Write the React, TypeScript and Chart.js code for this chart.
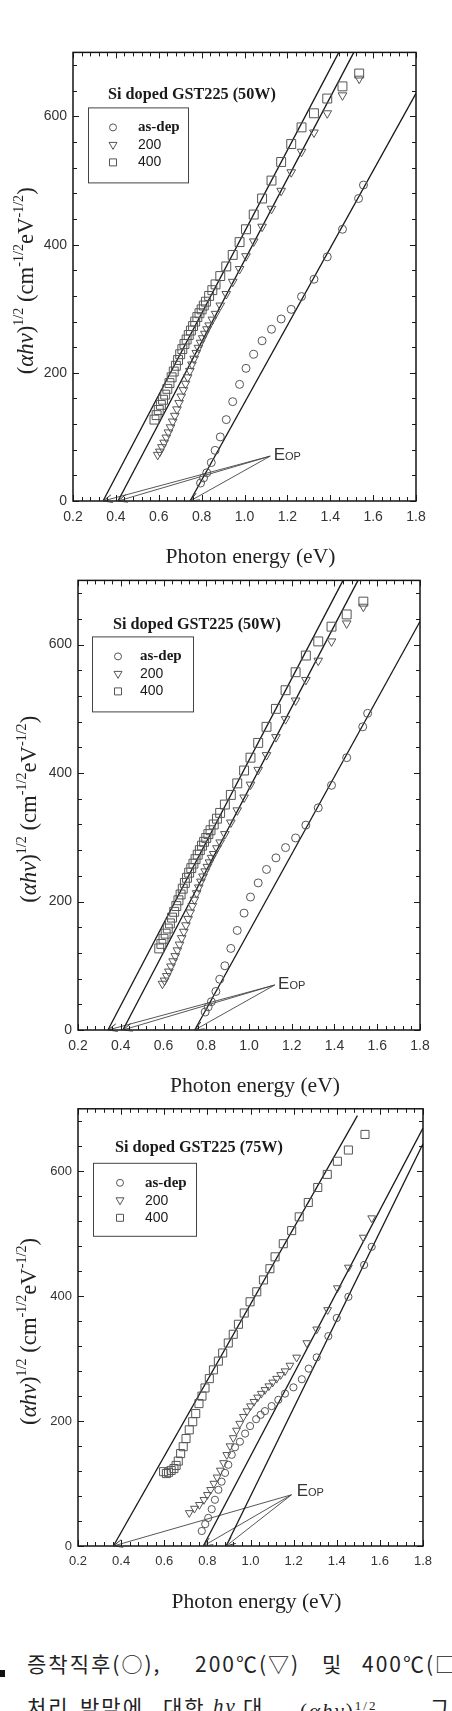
import React, { useEffect, useRef } from 'react';
import { Chart, registerables } from 'chart.js';

Chart.register(...registerables);
Chart.defaults.font.family = '"Liberation Sans", Arial, sans-serif';

// ---------------- data: 50 W film (shown in panels 1 and 2) ----------------
const e50AsDep = [0.795, 0.809, 0.824, 0.845, 0.863, 0.887, 0.915, 0.945, 0.977, 1.007, 1.043, 1.082, 1.126, 1.171, 1.218, 1.266, 1.324, 1.386, 1.457, 1.532, 1.555];
const v50AsDep = [28, 36, 44, 60, 79, 100, 127, 155, 182, 207, 229, 250, 268, 284, 299, 319, 346, 381, 424, 472, 493];

const e50Ann200 = [0.595, 0.605, 0.615, 0.625, 0.635, 0.645, 0.655, 0.665, 0.675, 0.685, 0.695, 0.705, 0.715, 0.725, 0.735, 0.745, 0.755, 0.765, 0.775, 0.785, 0.795, 0.805, 0.815, 0.825, 0.835, 0.85, 0.865, 0.887, 0.915, 0.945, 0.977, 1.007, 1.043, 1.082, 1.126, 1.171, 1.218, 1.266, 1.324, 1.386, 1.457, 1.535];
const v50Ann200 = [72, 77, 84, 91, 99, 107, 115, 124, 133, 143, 153, 163, 173, 183, 193, 203, 213, 222, 231, 239, 247, 254, 261, 268, 274, 283, 292, 305, 323, 342, 362, 382, 405, 428, 456, 484, 513, 545, 575, 605, 633, 659];

const e50Ann400 = [0.58, 0.59, 0.6, 0.61, 0.62, 0.63, 0.64, 0.65, 0.66, 0.67, 0.68, 0.69, 0.7, 0.71, 0.72, 0.73, 0.74, 0.75, 0.76, 0.77, 0.78, 0.79, 0.8, 0.81, 0.82, 0.835, 0.85, 0.865, 0.887, 0.915, 0.945, 0.977, 1.007, 1.043, 1.082, 1.126, 1.171, 1.218, 1.266, 1.324, 1.386, 1.457, 1.535];
const v50Ann400 = [127, 134, 142, 150, 158, 166, 175, 184, 193, 202, 211, 220, 229, 237, 245, 252, 259, 266, 273, 280, 287, 293, 299, 305, 311, 320, 329, 338, 351, 366, 384, 404, 424, 447, 472, 500, 529, 557, 583, 605, 628, 647, 667];

// fitted straight lines (start / end energy and value), order: 400, 200, as-dep
const fit50E = [[0.34, 1.44], [0.41, 1.51], [0.746, 1.8]];
const fit50V = [[0, 700], [0, 700], [0, 636]];
// EOP annotation: arrow source, label anchor, arrow targets (intercepts on the x axis)
const eop50Source = [1.12, 70];
const eop50Label = [1.136, 73];
const eop50Targets = [0.34, 0.41, 0.746];

// ---------------- data: 75 W film (panel 3) ----------------
const e75AsDep = [0.774, 0.79, 0.804, 0.82, 0.835, 0.851, 0.866, 0.882, 0.897, 0.913, 0.928, 0.951, 0.975, 0.998, 1.026, 1.047, 1.067, 1.098, 1.129, 1.16, 1.199, 1.238, 1.27, 1.307, 1.361, 1.4, 1.454, 1.527, 1.562];
const v75AsDep = [24, 35, 45, 59, 74, 90, 103, 117, 130, 146, 158, 167, 180, 192, 203, 210, 216, 224, 234, 244, 254, 267, 284, 302, 336, 365, 399, 450, 479];

const e75Ann200 = [0.716, 0.74, 0.763, 0.784, 0.8, 0.815, 0.83, 0.845, 0.86, 0.875, 0.89, 0.905, 0.92, 0.935, 0.95, 0.967, 0.984, 1.0, 1.016, 1.033, 1.05, 1.067, 1.085, 1.103, 1.121, 1.14, 1.16, 1.183, 1.214, 1.261, 1.307, 1.358, 1.403, 1.454, 1.523, 1.562];
const v75Ann200 = [53, 60, 66, 74, 82, 90, 100, 110, 121, 133, 146, 160, 173, 185, 196, 207, 216, 224, 231, 238, 244, 250, 256, 262, 268, 274, 280, 289, 302, 325, 347, 378, 413, 446, 494, 525];

const e75Ann400 = [0.597, 0.61, 0.62, 0.632, 0.645, 0.655, 0.665, 0.676, 0.688, 0.701, 0.716, 0.732, 0.746, 0.761, 0.775, 0.789, 0.809, 0.828, 0.851, 0.871, 0.897, 0.92, 0.944, 0.971, 0.998, 1.029, 1.06, 1.09, 1.114, 1.152, 1.191, 1.226, 1.268, 1.312, 1.356, 1.403, 1.454, 1.531];
const v75Ann400 = [119, 116, 118, 121, 124, 129, 136, 148, 159, 172, 186, 199, 212, 228, 240, 253, 268, 282, 296, 309, 325, 339, 355, 373, 391, 407, 426, 444, 463, 484, 505, 527, 550, 574, 595, 616, 634, 659];

const fit75E = [[0.364, 1.496], [0.781, 1.8], [0.887, 1.8]];
const fit75V = [[0, 689], [0, 669], [0, 644]];
const eop75Source = [1.19, 82];
const eop75Label = [1.214, 89];
const eop75Targets = [0.364, 0.781, 0.887];

// ---------------- axes / labels ----------------
const xTickLabels = ['0.2', '0.4', '0.6', '0.8', '1.0', '1.2', '1.4', '1.6', '1.8'];
const yTickLabels = ['0', '200', '400', '600'];
const legendLabels = ['as-dep', '200', '400'];
const xMinorStep = 0.04;
const yMinorStep = 40;
const titles = ['Si doped GST225 (50W)', 'Si doped GST225 (50W)', 'Si doped GST225 (75W)'];

const SERIF = '"Liberation Serif", "Times New Roman", serif';
const SANS = '"Liberation Sans", Arial, sans-serif';

type Legend = { tx: number; ty: number; bx: number; by: number; bw: number; bh: number; rows: number[]; sx: number; lx: number };
type Cfg = {
  canvasTop: number;
  canvasHeight: number;
  area: { left: number; right: number; top: number; bottom: number };
  title: string;
  series: { e: number[]; v: number[] }[];
  fitE: number[][];
  fitV: number[][];
  eopSrc: number[];
  eopLabel: number[];
  eopTargets: number[];
  tickFont: number;
  radii: number[];
  legend: Legend;
  yTitleX: number;
};

const panels: Cfg[] = [
  {
    canvasTop: 38, canvasHeight: 540,
    area: { left: 73, right: 416, top: 48, bottom: 501 },
    title: titles[0],
    series: [{ e: e50AsDep, v: v50AsDep }, { e: e50Ann200, v: v50Ann200 }, { e: e50Ann400, v: v50Ann400 }],
    fitE: fit50E, fitV: fit50V,
    eopSrc: eop50Source, eopLabel: eop50Label, eopTargets: eop50Targets,
    tickFont: 14, radii: [4, 5, 6.3],
    legend: { tx: 35, ty: 42, bx: 15, by: 55, bw: 100, bh: 75, rows: [75, 93, 110], sx: 40, lx: 65 },
    yTitleX: 25,
  },
  {
    canvasTop: 566, canvasHeight: 534,
    area: { left: 78, right: 420, top: 576, bottom: 1030 },
    title: titles[1],
    series: [{ e: e50AsDep, v: v50AsDep }, { e: e50Ann200, v: v50Ann200 }, { e: e50Ann400, v: v50Ann400 }],
    fitE: fit50E, fitV: fit50V,
    eopSrc: eop50Source, eopLabel: eop50Label, eopTargets: eop50Targets,
    tickFont: 14, radii: [4, 5, 6.3],
    legend: { tx: 35, ty: 44, bx: 14, by: 56, bw: 101, bh: 75, rows: [76, 94, 111], sx: 40, lx: 62 },
    yTitleX: 28,
  },
  {
    canvasTop: 1095, canvasHeight: 525,
    area: { left: 78, right: 423, top: 1105, bottom: 1546 },
    title: titles[2],
    series: [{ e: e75AsDep, v: v75AsDep }, { e: e75Ann200, v: v75Ann200 }, { e: e75Ann400, v: v75Ann400 }],
    fitE: fit75E, fitV: fit75V,
    eopSrc: eop75Source, eopLabel: eop75Label, eopTargets: eop75Targets,
    tickFont: 13, radii: [3.6, 4.5, 5.7],
    legend: { tx: 37, ty: 39, bx: 15, by: 54, bw: 103, bh: 73, rows: [74, 92, 109], sx: 42, lx: 67 },
    yTitleX: 28,
  },
];

const markerStyles = [
  { pointStyle: 'circle', rotation: 0 },
  { pointStyle: 'triangle', rotation: 180 },
  { pointStyle: 'rect', rotation: 0 },
];

function drawSymbol(ctx: CanvasRenderingContext2D, kind: number, x: number, y: number) {
  ctx.beginPath();
  if (kind === 0) {
    ctx.arc(x, y, 3.5, 0, Math.PI * 2);
  } else if (kind === 1) {
    ctx.moveTo(x - 4, y - 3);
    ctx.lineTo(x + 4, y - 3);
    ctx.lineTo(x, y + 4);
    ctx.closePath();
  } else {
    ctx.rect(x - 3.5, y - 3.5, 7, 7);
  }
  ctx.stroke();
}

function drawYTitle(ctx: CanvasRenderingContext2D, cx: number, cy: number, targetLen: number) {
  const parts: [string, string, boolean][] = [
    ['(', '', false], ['αhν', 'italic ', false], [')', '', false], ['1/2', '', true],
    [' (cm', '', false], ['-1/2', '', true], ['eV', '', false], ['-1/2', '', true], [')', '', false],
  ];
  const font = (st: string, sup: boolean, size: number) => `${st}${sup ? size * 0.62 : size}px ${SERIF}`;
  const measure = (size: number) =>
    parts.reduce((s, [t, st, sup]) => {
      ctx.font = font(st, sup, size);
      return s + ctx.measureText(t).width;
    }, 0);
  const base = 20;
  const size = (base * targetLen) / measure(base);
  ctx.save();
  ctx.translate(cx, cy);
  ctx.rotate(-Math.PI / 2);
  ctx.textAlign = 'left';
  ctx.textBaseline = 'alphabetic';
  ctx.fillStyle = '#222';
  let x = -targetLen / 2;
  const baseY = size * 0.34;
  for (const [t, st, sup] of parts) {
    ctx.font = font(st, sup, size);
    ctx.fillText(t, x, sup ? baseY - size * 0.42 : baseY);
    x += ctx.measureText(t).width;
  }
  ctx.restore();
}

function fitSize(ctx: CanvasRenderingContext2D, text: string, style: string, family: string, width: number) {
  ctx.font = `${style} 20px ${family}`;
  return (20 * width) / ctx.measureText(text).width;
}

function makeDecor(cfg: Cfg) {
  return {
    id: 'decor',
    afterDraw(chart: any) {
      const ctx: CanvasRenderingContext2D = chart.ctx;
      const a = chart.chartArea;
      const xs = chart.scales.x;
      const ys = chart.scales.y;
      ctx.save();

      // inward ticks on all four sides
      ctx.strokeStyle = '#1a1a1a';
      ctx.lineWidth = 1;
      ctx.beginPath();
      const nx = Math.round((xs.max - xs.min) / xMinorStep);
      for (let i = 0; i <= nx; i++) {
        const px = Math.round(xs.getPixelForValue(xs.min + i * xMinorStep)) + 0.5;
        const len = i % 5 === 0 ? 6 : 4;
        ctx.moveTo(px, a.bottom);
        ctx.lineTo(px, a.bottom - len);
        ctx.moveTo(px, a.top);
        ctx.lineTo(px, a.top + len);
      }
      const ny = Math.floor((ys.max - ys.min) / yMinorStep);
      for (let j = 0; j <= ny; j++) {
        const py = Math.round(ys.getPixelForValue(j * yMinorStep)) + 0.5;
        const len = j % 5 === 0 ? 6 : 4;
        ctx.moveTo(a.left, py);
        ctx.lineTo(a.left + len, py);
        ctx.moveTo(a.right, py);
        ctx.lineTo(a.right - len, py);
      }
      ctx.stroke();

      // frame
      ctx.strokeStyle = '#151515';
      ctx.lineWidth = 1.5;
      ctx.strokeRect(a.left, a.top, a.right - a.left, a.bottom - a.top);

      // EOP arrowheads
      const sx = xs.getPixelForValue(cfg.eopSrc[0]);
      const sy = ys.getPixelForValue(cfg.eopSrc[1]);
      ctx.strokeStyle = '#333';
      ctx.lineWidth = 1;
      ctx.beginPath();
      for (const t of cfg.eopTargets) {
        const tx = xs.getPixelForValue(t);
        const ty = ys.getPixelForValue(0);
        const ang = Math.atan2(ty - sy, tx - sx);
        const L = 10;
        ctx.moveTo(tx - L * Math.cos(ang - 0.4), ty - L * Math.sin(ang - 0.4));
        ctx.lineTo(tx, ty);
        ctx.lineTo(tx - L * Math.cos(ang + 0.4), ty - L * Math.sin(ang + 0.4));
      }
      ctx.stroke();

      // EOP label
      const lx = xs.getPixelForValue(cfg.eopLabel[0]);
      const ly = ys.getPixelForValue(cfg.eopLabel[1]);
      ctx.fillStyle = '#333';
      ctx.textBaseline = 'alphabetic';
      ctx.textAlign = 'left';
      ctx.font = `17px ${SANS}`;
      ctx.fillText('E', lx, ly + 6);
      const we = ctx.measureText('E').width;
      ctx.font = `11px ${SANS}`;
      ctx.fillText('OP', lx + we, ly + 6);

      // in-plot title
      const lg = cfg.legend;
      ctx.fillStyle = '#1a1a1a';
      ctx.textBaseline = 'middle';
      const ts = fitSize(ctx, cfg.title, 'bold', SERIF, 168);
      ctx.font = `bold ${ts}px ${SERIF}`;
      ctx.fillText(cfg.title, a.left + lg.tx, a.top + lg.ty);

      // legend box
      ctx.strokeStyle = '#444';
      ctx.lineWidth = 1;
      ctx.strokeRect(a.left + lg.bx + 0.5, a.top + lg.by + 0.5, lg.bw, lg.bh);
      ctx.strokeStyle = '#555';
      for (let k = 0; k < 3; k++) {
        const ry = a.top + lg.rows[k];
        drawSymbol(ctx, k, a.left + lg.sx, ry);
        ctx.fillStyle = '#1a1a1a';
        ctx.font = k === 0 ? `bold 15px ${SERIF}` : `14px ${SANS}`;
        ctx.fillText(legendLabels[k], a.left + lg.lx, ry);
      }

      // axis titles
      ctx.textAlign = 'center';
      const xt = 'Photon energy (eV)';
      const xsz = fitSize(ctx, xt, '', SERIF, 170);
      ctx.font = `${xsz}px ${SERIF}`;
      ctx.fillStyle = '#222';
      ctx.fillText(xt, (a.left + a.right) / 2 + 6, a.bottom + 56);
      drawYTitle(ctx, cfg.yTitleX, (a.top + a.bottom) / 2 + 4, 187);

      ctx.restore();
    },
  };
}

function Panel({ cfg }: { cfg: Cfg }) {
  const ref = useRef<HTMLCanvasElement>(null);
  useEffect(() => {
    const canvas = ref.current;
    if (!canvas) return;
    const a = cfg.area;
    const xAxisH = cfg.canvasTop + cfg.canvasHeight - a.bottom;
    const datasets: any[] = [];
    cfg.series.forEach((s, k) => {
      datasets.push({
        label: legendLabels[k],
        data: s.e.map((e, i) => ({ x: e, y: s.v[i] })),
        pointStyle: markerStyles[k].pointStyle,
        rotation: markerStyles[k].rotation,
        pointRadius: cfg.radii[k],
        pointBorderWidth: 1,
        borderColor: '#555',
        backgroundColor: 'rgba(0,0,0,0)',
        showLine: false,
      });
    });
    cfg.fitE.forEach((es, k) => {
      datasets.push({
        label: 'fit ' + k,
        data: [{ x: es[0], y: cfg.fitV[k][0] }, { x: es[1], y: cfg.fitV[k][1] }],
        showLine: true,
        pointRadius: 0,
        borderColor: '#1a1a1a',
        borderWidth: 1.3,
      });
    });
    cfg.eopTargets.forEach((t, k) => {
      datasets.push({
        label: 'eop ' + k,
        data: [{ x: cfg.eopSrc[0], y: cfg.eopSrc[1] }, { x: t, y: 0 }],
        showLine: true,
        pointRadius: 0,
        borderColor: '#444',
        borderWidth: 0.9,
      });
    });
    const tickFont = { size: cfg.tickFont, family: SANS };
    const chart = new Chart(canvas, {
      type: 'scatter',
      data: { datasets },
      options: {
        responsive: false,
        animation: false,
        events: [],
        layout: { padding: { top: a.top - cfg.canvasTop, left: 0, right: 452 - a.right, bottom: 0 } },
        plugins: { legend: { display: false }, tooltip: { enabled: false } },
        scales: {
          x: {
            type: 'linear',
            min: 0.2,
            max: 1.8,
            grid: { display: false, drawTicks: false },
            border: { display: false },
            ticks: {
              stepSize: 0.2,
              autoSkip: false,
              maxRotation: 0,
              padding: 8,
              color: '#333',
              font: tickFont,
              callback: (v: any) => {
                const s = Number(v).toFixed(1);
                return xTickLabels.includes(s) ? s : '';
              },
            },
            afterFit: (s: any) => {
              s.height = xAxisH;
            },
          },
          y: {
            type: 'linear',
            min: 0,
            max: 700,
            grid: { display: false, drawTicks: false },
            border: { display: false },
            ticks: {
              stepSize: 200,
              includeBounds: false,
              padding: 6,
              color: '#333',
              font: tickFont,
              callback: (v: any) => {
                const s = String(Math.round(Number(v)));
                return yTickLabels.includes(s) ? s : '';
              },
            },
            afterFit: (s: any) => {
              s.width = a.left;
            },
          },
        },
      } as any,
      plugins: [makeDecor(cfg) as any],
    });
    return () => chart.destroy();
  }, [cfg]);
  return (
    <canvas
      ref={ref}
      width={452}
      height={cfg.canvasHeight}
      style={{ position: 'absolute', left: 0, top: cfg.canvasTop, width: 452, height: cfg.canvasHeight }}
    />
  );
}

const KFONT = '"Noto Sans CJK KR", "Noto Sans", sans-serif';

function Seg({ x, y, children, style }: { x: number; y: number; children: React.ReactNode; style?: React.CSSProperties }) {
  return (
    <span
      style={{
        position: 'absolute',
        left: x,
        top: y,
        whiteSpace: 'pre',
        fontFamily: KFONT,
        fontSize: 21,
        lineHeight: '24px',
        color: '#222',
        letterSpacing: 2,
        ...style,
      }}
    >
      {children}
    </span>
  );
}

export default function App() {
  const y1 = 1651;
  const y2 = 1694;
  return (
    <div
      style={{
        position: 'absolute',
        left: 0,
        top: 0,
        width: 452,
        height: 1711,
        overflow: 'hidden',
        background: '#fff',
      }}
    >
      {panels.map((p, i) => (
        <Panel key={i} cfg={p} />
      ))}
      <div style={{ position: 'absolute', left: -2, top: 1670, width: 7, height: 7, background: '#111' }} />
      <Seg x={27} y={y1}>증착직후(○),</Seg>
      <Seg x={195} y={y1}>200℃(▽)</Seg>
      <Seg x={322} y={y1}>및</Seg>
      <Seg x={362} y={y1}>400℃(□</Seg>
      <Seg x={27} y={y2}>처리</Seg>
      <Seg x={80} y={y2}>박막에</Seg>
      <Seg x={163} y={y2}>대한</Seg>
      <Seg x={213} y={y2} style={{ fontFamily: SERIF, fontStyle: 'italic' }}>hν</Seg>
      <Seg x={243} y={y2}>대</Seg>
      <Seg x={300} y={y2} style={{ fontFamily: SERIF }}>
        (<i>αhν</i>)<sup style={{ fontSize: 13 }}>1/2</sup>
      </Seg>
      <Seg x={430} y={y2}>그</Seg>
    </div>
  );
}
